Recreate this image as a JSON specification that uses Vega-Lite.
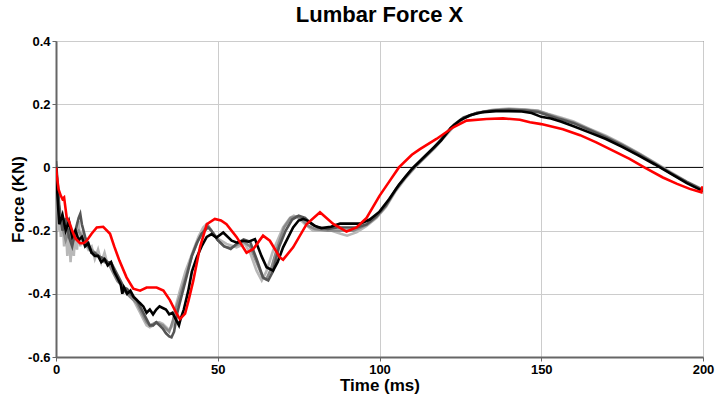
{
  "$schema": "https://vega.github.io/schema/vega-lite/v6.json",
  "width": 647,
  "height": 316,
  "autosize": {"type": "none"},
  "padding": {"left": 56, "top": 41, "right": 12, "bottom": 42},
  "background": "white",
  "title": {"text": "Lumbar Force X", "fontSize": 22, "font": "Liberation Sans", "fontWeight": "bold", "color": "#000", "offset": 8, "anchor": "middle"},
  "config": {
    "view": {"stroke": "#333", "strokeWidth": 1},
    "axis": {"labelFont": "Liberation Sans", "labelFontWeight": "bold", "labelFontSize": 13, "labelColor": "#000", "titleFont": "Liberation Sans", "titleFontWeight": "bold", "titleFontSize": 17, "titleColor": "#000", "gridColor": "#cccccc", "gridWidth": 1, "domainColor": "#666", "domainWidth": 2, "tickColor": "#666", "tickSize": 4, "gridOpacity": 1}
  },
  "datasets": {
    "gray": [
      {"s":"D","t":0,"v":0.02},{"s":"D","t":0.3,"v":-0.05},{"s":"D","t":0.7,"v":-0.2},{"s":"D","t":1,"v":-0.12},{"s":"D","t":1.5,"v":-0.22},{"s":"D","t":2,"v":-0.15},{"s":"D","t":2.5,"v":-0.25},{"s":"D","t":3,"v":-0.18},{"s":"D","t":3.5,"v":-0.28},{"s":"D","t":4,"v":-0.2},{"s":"D","t":4.5,"v":-0.3},{"s":"D","t":5,"v":-0.22},{"s":"D","t":5.5,"v":-0.28},{"s":"D","t":6,"v":-0.2},{"s":"D","t":6.5,"v":-0.26},{"s":"D","t":7,"v":-0.17},{"s":"D","t":7.5,"v":-0.25},{"s":"D","t":8,"v":-0.2},{"s":"D","t":9,"v":-0.24},{"s":"D","t":10,"v":-0.26},{"s":"D","t":11,"v":-0.25},{"s":"D","t":12,"v":-0.29},{"s":"D","t":13,"v":-0.26},{"s":"D","t":14,"v":-0.3},{"s":"D","t":15,"v":-0.27},{"s":"D","t":16,"v":-0.31},{"s":"D","t":17,"v":-0.3},{"s":"D","t":18,"v":-0.33},{"s":"D","t":19,"v":-0.35},{"s":"D","t":20,"v":-0.37},{"s":"D","t":21,"v":-0.38},{"s":"D","t":22,"v":-0.4},{"s":"D","t":23,"v":-0.41},{"s":"D","t":24,"v":-0.42},{"s":"D","t":25,"v":-0.44},{"s":"D","t":26,"v":-0.46},{"s":"D","t":27,"v":-0.48},{"s":"D","t":28,"v":-0.5},{"s":"D","t":29,"v":-0.506},{"s":"D","t":30,"v":-0.5},{"s":"D","t":31,"v":-0.49},{"s":"D","t":32,"v":-0.49},{"s":"D","t":33,"v":-0.495},{"s":"D","t":34,"v":-0.505},{"s":"D","t":35,"v":-0.515},{"s":"D","t":36,"v":-0.5},{"s":"D","t":37,"v":-0.44},{"s":"D","t":38.3,"v":-0.39},{"s":"D","t":40,"v":-0.33},{"s":"D","t":42.4,"v":-0.264},{"s":"D","t":44,"v":-0.22},{"s":"D","t":45.5,"v":-0.19},{"s":"D","t":46.6,"v":-0.179},{"s":"D","t":48,"v":-0.2},{"s":"D","t":50,"v":-0.225},{"s":"D","t":52.7,"v":-0.242},{"s":"D","t":55.8,"v":-0.253},{"s":"D","t":58.4,"v":-0.242},{"s":"D","t":60,"v":-0.27},{"s":"D","t":62,"v":-0.327},{"s":"D","t":63.6,"v":-0.358},{"s":"D","t":65,"v":-0.33},{"s":"D","t":67.1,"v":-0.264},{"s":"D","t":70.2,"v":-0.19},{"s":"D","t":72.3,"v":-0.16},{"s":"D","t":73.5,"v":-0.153},{"s":"D","t":75,"v":-0.16},{"s":"D","t":77,"v":-0.18},{"s":"D","t":79.5,"v":-0.2},{"s":"D","t":82,"v":-0.2},{"s":"D","t":85,"v":-0.2},{"s":"D","t":88,"v":-0.21},{"s":"D","t":90,"v":-0.216},{"s":"D","t":93,"v":-0.205},{"s":"D","t":96,"v":-0.185},{"s":"D","t":99,"v":-0.16},{"s":"D","t":102,"v":-0.125},{"s":"D","t":105,"v":-0.075},{"s":"D","t":108,"v":-0.035},{"s":"D","t":111,"v":0},{"s":"D","t":114,"v":0.03},{"s":"D","t":117,"v":0.06},{"s":"D","t":120,"v":0.095},{"s":"D","t":123,"v":0.13},{"s":"D","t":126,"v":0.155},{"s":"D","t":130,"v":0.172},{"s":"D","t":135,"v":0.182},{"s":"D","t":140,"v":0.186},{"s":"D","t":145,"v":0.183},{"s":"D","t":149,"v":0.18},{"s":"D","t":152,"v":0.17},{"s":"D","t":156,"v":0.158},{"s":"D","t":160,"v":0.145},{"s":"D","t":165,"v":0.122},{"s":"D","t":170,"v":0.1},{"s":"D","t":175,"v":0.074},{"s":"D","t":180,"v":0.046},{"s":"D","t":185,"v":0.016},{"s":"D","t":190,"v":-0.015},{"s":"D","t":195,"v":-0.045},{"s":"D","t":200,"v":-0.07},

      {"s":"C","t":0,"v":0.01},{"s":"C","t":1,"v":-0.15},{"s":"C","t":2,"v":-0.19},{"s":"C","t":3,"v":-0.23},{"s":"C","t":4,"v":-0.2},{"s":"C","t":5,"v":-0.24},{"s":"C","t":6,"v":-0.21},{"s":"C","t":7,"v":-0.2},{"s":"C","t":8,"v":-0.22},{"s":"C","t":9,"v":-0.23},{"s":"C","t":10,"v":-0.25},{"s":"C","t":11,"v":-0.26},{"s":"C","t":12,"v":-0.27},{"s":"C","t":13,"v":-0.28},{"s":"C","t":14,"v":-0.29},{"s":"C","t":15,"v":-0.3},{"s":"C","t":16,"v":-0.3},{"s":"C","t":17,"v":-0.32},{"s":"C","t":18,"v":-0.34},{"s":"C","t":19,"v":-0.36},{"s":"C","t":20,"v":-0.37},{"s":"C","t":21,"v":-0.39},{"s":"C","t":22,"v":-0.4},{"s":"C","t":23,"v":-0.41},{"s":"C","t":24,"v":-0.42},{"s":"C","t":25,"v":-0.43},{"s":"C","t":26,"v":-0.45},{"s":"C","t":27,"v":-0.47},{"s":"C","t":28,"v":-0.49},{"s":"C","t":29,"v":-0.5},{"s":"C","t":30,"v":-0.495},{"s":"C","t":31,"v":-0.49},{"s":"C","t":32,"v":-0.495},{"s":"C","t":33,"v":-0.5},{"s":"C","t":34,"v":-0.51},{"s":"C","t":35,"v":-0.52},{"s":"C","t":36,"v":-0.49},{"s":"C","t":37,"v":-0.45},{"s":"C","t":38.5,"v":-0.4},{"s":"C","t":40,"v":-0.35},{"s":"C","t":42,"v":-0.28},{"s":"C","t":44,"v":-0.23},{"s":"C","t":46,"v":-0.195},{"s":"C","t":47,"v":-0.185},{"s":"C","t":48,"v":-0.2},{"s":"C","t":50,"v":-0.23},{"s":"C","t":52,"v":-0.25},{"s":"C","t":54,"v":-0.255},{"s":"C","t":56,"v":-0.245},{"s":"C","t":58,"v":-0.235},{"s":"C","t":60,"v":-0.25},{"s":"C","t":62,"v":-0.3},{"s":"C","t":64,"v":-0.35},{"s":"C","t":65,"v":-0.355},{"s":"C","t":66.5,"v":-0.32},{"s":"C","t":68.5,"v":-0.25},{"s":"C","t":70.5,"v":-0.19},{"s":"C","t":72.5,"v":-0.16},{"s":"C","t":74.5,"v":-0.155},{"s":"C","t":76,"v":-0.165},{"s":"C","t":78,"v":-0.185},{"s":"C","t":80,"v":-0.195},{"s":"C","t":84,"v":-0.2},{"s":"C","t":88,"v":-0.2},{"s":"C","t":92,"v":-0.2},{"s":"C","t":96,"v":-0.182},{"s":"C","t":99,"v":-0.158},{"s":"C","t":102,"v":-0.122},{"s":"C","t":105,"v":-0.072},{"s":"C","t":108,"v":-0.032},{"s":"C","t":111,"v":0.002},{"s":"C","t":114,"v":0.032},{"s":"C","t":117,"v":0.062},{"s":"C","t":120,"v":0.097},{"s":"C","t":123,"v":0.132},{"s":"C","t":126,"v":0.156},{"s":"C","t":130,"v":0.172},{"s":"C","t":135,"v":0.181},{"s":"C","t":140,"v":0.184},{"s":"C","t":145,"v":0.182},{"s":"C","t":149,"v":0.178},{"s":"C","t":152,"v":0.168},{"s":"C","t":156,"v":0.155},{"s":"C","t":160,"v":0.142},{"s":"C","t":165,"v":0.12},{"s":"C","t":170,"v":0.097},{"s":"C","t":175,"v":0.072},{"s":"C","t":180,"v":0.044},{"s":"C","t":185,"v":0.014},{"s":"C","t":190,"v":-0.017},{"s":"C","t":195,"v":-0.046},{"s":"C","t":200,"v":-0.071},

      {"s":"B","t":0,"v":0.02},{"s":"B","t":0.5,"v":-0.05},{"s":"B","t":1,"v":-0.12},{"s":"B","t":2,"v":-0.2},{"s":"B","t":3,"v":-0.16},{"s":"B","t":4,"v":-0.22},{"s":"B","t":5,"v":-0.25},{"s":"B","t":6,"v":-0.2},{"s":"B","t":7,"v":-0.16},{"s":"B","t":7.5,"v":-0.147},{"s":"B","t":8,"v":-0.18},{"s":"B","t":9,"v":-0.22},{"s":"B","t":10,"v":-0.25},{"s":"B","t":11,"v":-0.27},{"s":"B","t":12,"v":-0.27},{"s":"B","t":13,"v":-0.28},{"s":"B","t":14,"v":-0.285},{"s":"B","t":15,"v":-0.29},{"s":"B","t":16,"v":-0.3},{"s":"B","t":17,"v":-0.3},{"s":"B","t":18,"v":-0.32},{"s":"B","t":19,"v":-0.34},{"s":"B","t":20,"v":-0.36},{"s":"B","t":21,"v":-0.38},{"s":"B","t":22,"v":-0.385},{"s":"B","t":23,"v":-0.4},{"s":"B","t":24,"v":-0.41},{"s":"B","t":25,"v":-0.42},{"s":"B","t":26,"v":-0.44},{"s":"B","t":27,"v":-0.46},{"s":"B","t":28,"v":-0.48},{"s":"B","t":29,"v":-0.5},{"s":"B","t":30,"v":-0.5},{"s":"B","t":31,"v":-0.49},{"s":"B","t":32,"v":-0.5},{"s":"B","t":33,"v":-0.51},{"s":"B","t":34,"v":-0.525},{"s":"B","t":35,"v":-0.535},{"s":"B","t":35.7,"v":-0.538},{"s":"B","t":36.5,"v":-0.52},{"s":"B","t":37.5,"v":-0.46},{"s":"B","t":39,"v":-0.4},{"s":"B","t":40.5,"v":-0.34},{"s":"B","t":42,"v":-0.28},{"s":"B","t":43.5,"v":-0.24},{"s":"B","t":45,"v":-0.21},{"s":"B","t":47,"v":-0.19},{"s":"B","t":48,"v":-0.2},{"s":"B","t":50,"v":-0.23},{"s":"B","t":52,"v":-0.25},{"s":"B","t":54,"v":-0.258},{"s":"B","t":56,"v":-0.24},{"s":"B","t":58,"v":-0.228},{"s":"B","t":60,"v":-0.235},{"s":"B","t":62,"v":-0.29},{"s":"B","t":64,"v":-0.348},{"s":"B","t":65.6,"v":-0.358},{"s":"B","t":67,"v":-0.33},{"s":"B","t":69,"v":-0.25},{"s":"B","t":71,"v":-0.2},{"s":"B","t":73,"v":-0.165},{"s":"B","t":75,"v":-0.153},{"s":"B","t":77,"v":-0.16},{"s":"B","t":79,"v":-0.18},{"s":"B","t":81,"v":-0.19},{"s":"B","t":84,"v":-0.195},{"s":"B","t":87,"v":-0.19},{"s":"B","t":90,"v":-0.19},{"s":"B","t":93,"v":-0.19},{"s":"B","t":96,"v":-0.18},{"s":"B","t":99,"v":-0.155},{"s":"B","t":102,"v":-0.12},{"s":"B","t":105,"v":-0.07},{"s":"B","t":108,"v":-0.03},{"s":"B","t":111,"v":0.005},{"s":"B","t":114,"v":0.035},{"s":"B","t":117,"v":0.065},{"s":"B","t":120,"v":0.1},{"s":"B","t":123,"v":0.135},{"s":"B","t":126,"v":0.158},{"s":"B","t":130,"v":0.172},{"s":"B","t":135,"v":0.18},{"s":"B","t":140,"v":0.182},{"s":"B","t":145,"v":0.18},{"s":"B","t":149,"v":0.175},{"s":"B","t":152,"v":0.165},{"s":"B","t":156,"v":0.152},{"s":"B","t":160,"v":0.14},{"s":"B","t":165,"v":0.118},{"s":"B","t":170,"v":0.095},{"s":"B","t":175,"v":0.07},{"s":"B","t":180,"v":0.042},{"s":"B","t":185,"v":0.012},{"s":"B","t":190,"v":-0.018},{"s":"B","t":195,"v":-0.047},{"s":"B","t":200,"v":-0.072},

      {"s":"A","t":0,"v":0},{"s":"A","t":0.5,"v":-0.1},{"s":"A","t":1,"v":-0.18},{"s":"A","t":2,"v":-0.15},{"s":"A","t":3,"v":-0.2},{"s":"A","t":4,"v":-0.17},{"s":"A","t":5,"v":-0.22},{"s":"A","t":6,"v":-0.2},{"s":"A","t":7,"v":-0.23},{"s":"A","t":8,"v":-0.22},{"s":"A","t":9,"v":-0.25},{"s":"A","t":10,"v":-0.24},{"s":"A","t":11,"v":-0.27},{"s":"A","t":12,"v":-0.28},{"s":"A","t":13,"v":-0.28},{"s":"A","t":14,"v":-0.3},{"s":"A","t":15,"v":-0.29},{"s":"A","t":16,"v":-0.31},{"s":"A","t":17,"v":-0.3},{"s":"A","t":18,"v":-0.33},{"s":"A","t":19,"v":-0.35},{"s":"A","t":20,"v":-0.37},{"s":"A","t":20.5,"v":-0.4},{"s":"A","t":21,"v":-0.38},{"s":"A","t":22,"v":-0.4},{"s":"A","t":23,"v":-0.39},{"s":"A","t":24,"v":-0.41},{"s":"A","t":25,"v":-0.42},{"s":"A","t":26,"v":-0.43},{"s":"A","t":27,"v":-0.44},{"s":"A","t":28,"v":-0.46},{"s":"A","t":29,"v":-0.45},{"s":"A","t":30,"v":-0.465},{"s":"A","t":31,"v":-0.45},{"s":"A","t":32,"v":-0.44},{"s":"A","t":33,"v":-0.445},{"s":"A","t":34,"v":-0.45},{"s":"A","t":35,"v":-0.465},{"s":"A","t":36,"v":-0.46},{"s":"A","t":37,"v":-0.48},{"s":"A","t":38,"v":-0.5},{"s":"A","t":38.5,"v":-0.48},{"s":"A","t":39.5,"v":-0.45},{"s":"A","t":40.9,"v":-0.39},{"s":"A","t":42,"v":-0.33},{"s":"A","t":43.5,"v":-0.285},{"s":"A","t":45,"v":-0.25},{"s":"A","t":46.6,"v":-0.22},{"s":"A","t":48.1,"v":-0.211},{"s":"A","t":49.6,"v":-0.222},{"s":"A","t":51.7,"v":-0.206},{"s":"A","t":54.3,"v":-0.232},{"s":"A","t":56,"v":-0.238},{"s":"A","t":57.9,"v":-0.232},{"s":"A","t":59.5,"v":-0.235},{"s":"A","t":61.5,"v":-0.227},{"s":"A","t":63.5,"v":-0.28},{"s":"A","t":65.1,"v":-0.316},{"s":"A","t":67.1,"v":-0.327},{"s":"A","t":68.5,"v":-0.3},{"s":"A","t":70.2,"v":-0.253},{"s":"A","t":73.3,"v":-0.19},{"s":"A","t":75,"v":-0.168},{"s":"A","t":76.4,"v":-0.163},{"s":"A","t":78,"v":-0.17},{"s":"A","t":80,"v":-0.185},{"s":"A","t":82,"v":-0.192},{"s":"A","t":85,"v":-0.188},{"s":"A","t":87.8,"v":-0.178},{"s":"A","t":91,"v":-0.178},{"s":"A","t":94,"v":-0.178},{"s":"A","t":97,"v":-0.165},{"s":"A","t":100,"v":-0.14},{"s":"A","t":103,"v":-0.1},{"s":"A","t":106,"v":-0.055},{"s":"A","t":108,"v":-0.03},{"s":"A","t":110,"v":-0.005},{"s":"A","t":113,"v":0.025},{"s":"A","t":116,"v":0.055},{"s":"A","t":119,"v":0.085},{"s":"A","t":122,"v":0.125},{"s":"A","t":125,"v":0.15},{"s":"A","t":128,"v":0.165},{"s":"A","t":132,"v":0.175},{"s":"A","t":136,"v":0.178},{"s":"A","t":140,"v":0.178},{"s":"A","t":144,"v":0.177},{"s":"A","t":147,"v":0.172},{"s":"A","t":150,"v":0.16},{"s":"A","t":153,"v":0.155},{"s":"A","t":156,"v":0.145},{"s":"A","t":160,"v":0.13},{"s":"A","t":165,"v":0.11},{"s":"A","t":170,"v":0.09},{"s":"A","t":175,"v":0.065},{"s":"A","t":180,"v":0.038},{"s":"A","t":185,"v":0.01},{"s":"A","t":190,"v":-0.02},{"s":"A","t":195,"v":-0.05},{"s":"A","t":200,"v":-0.075}
    ],
    "red": [
      {"t":0,"v":0},{"t":0.3,"v":-0.03},{"t":0.8,"v":-0.07},{"t":1.5,"v":-0.09},{"t":2,"v":-0.1},{"t":2.5,"v":-0.095},{"t":3.3,"v":-0.158},{"t":4,"v":-0.17},{"t":5,"v":-0.2},{"t":6,"v":-0.225},{"t":7.4,"v":-0.24},{"t":8.5,"v":-0.24},{"t":9.5,"v":-0.232},{"t":11,"v":-0.21},{"t":12.6,"v":-0.19},{"t":14.6,"v":-0.188},{"t":16.7,"v":-0.21},{"t":18,"v":-0.25},{"t":19.6,"v":-0.295},{"t":21.8,"v":-0.348},{"t":23.9,"v":-0.384},{"t":26,"v":-0.39},{"t":28,"v":-0.38},{"t":31.1,"v":-0.38},{"t":33.2,"v":-0.39},{"t":35.2,"v":-0.42},{"t":37.3,"v":-0.463},{"t":38.3,"v":-0.48},{"t":39.9,"v":-0.463},{"t":41,"v":-0.42},{"t":42.4,"v":-0.36},{"t":44.5,"v":-0.253},{"t":46.6,"v":-0.18},{"t":49.1,"v":-0.163},{"t":51,"v":-0.168},{"t":52.7,"v":-0.18},{"t":55.8,"v":-0.22},{"t":58.9,"v":-0.27},{"t":61,"v":-0.258},{"t":64,"v":-0.216},{"t":66.1,"v":-0.232},{"t":69.2,"v":-0.285},{"t":70.2,"v":-0.292},{"t":73.3,"v":-0.253},{"t":77.5,"v":-0.179},{"t":81.6,"v":-0.142},{"t":85.7,"v":-0.179},{"t":89.8,"v":-0.203},{"t":92.9,"v":-0.19},{"t":96,"v":-0.16},{"t":100,"v":-0.09},{"t":103,"v":-0.045},{"t":106,"v":0},{"t":110,"v":0.04},{"t":112.5,"v":0.058},{"t":117.6,"v":0.09},{"t":122.8,"v":0.127},{"t":126.9,"v":0.148},{"t":133.1,"v":0.153},{"t":138.2,"v":0.155},{"t":143.4,"v":0.151},{"t":146.5,"v":0.143},{"t":150,"v":0.137},{"t":156.7,"v":0.121},{"t":162,"v":0.102},{"t":167,"v":0.079},{"t":172,"v":0.054},{"t":177.3,"v":0.027},{"t":182,"v":-0.001},{"t":187.6,"v":-0.032},{"t":192,"v":-0.052},{"t":195.9,"v":-0.068},{"t":199.5,"v":-0.079},{"t":199.8,"v":-0.06},{"t":200,"v":-0.075}
    ],
    "zero": [{"v": 0}]
  },
  "layer": [
    {
      "data": {"name": "zero"},
      "mark": {"type": "rule", "color": "#000", "strokeWidth": 1},
      "encoding": {"y": {"field": "v", "type": "quantitative", "scale": {"domain": [-0.6, 0.4], "nice": false}}}
    },
    {
      "data": {"name": "gray"},
      "mark": {"type": "line", "strokeWidth": 2.6, "clip": true},
      "encoding": {
        "x": {"field": "t", "type": "quantitative", "scale": {"domain": [0, 200], "nice": false}, "axis": {"title": "Time (ms)", "values": [0, 50, 100, 150, 200], "labelPadding": 2, "titlePadding": 1, "labelFlush": false}},
        "y": {"field": "v", "type": "quantitative", "scale": {"domain": [-0.6, 0.4], "nice": false}, "axis": {"title": "Force (KN)", "values": [-0.6, -0.4, -0.2, 0, 0.2, 0.4], "labelExpr": "datum.value == 0 ? '0' : toString(round(datum.value*10)/10)", "labelPadding": 2, "titlePadding": 0, "labelFlush": false}},
        "color": {"field": "s", "type": "nominal", "legend": null, "scale": {"domain": ["D", "C", "B", "A"], "range": ["#b8b8b8", "#8a8a8a", "#555555", "#000000"]}},
        "order": {"field": "t", "type": "quantitative"}
      }
    },
    {
      "data": {"name": "red"},
      "mark": {"type": "line", "strokeWidth": 2.6, "color": "#ff0000", "clip": true},
      "encoding": {
        "x": {"field": "t", "type": "quantitative"},
        "y": {"field": "v", "type": "quantitative"},
        "order": {"field": "t", "type": "quantitative"}
      }
    }
  ]
}
